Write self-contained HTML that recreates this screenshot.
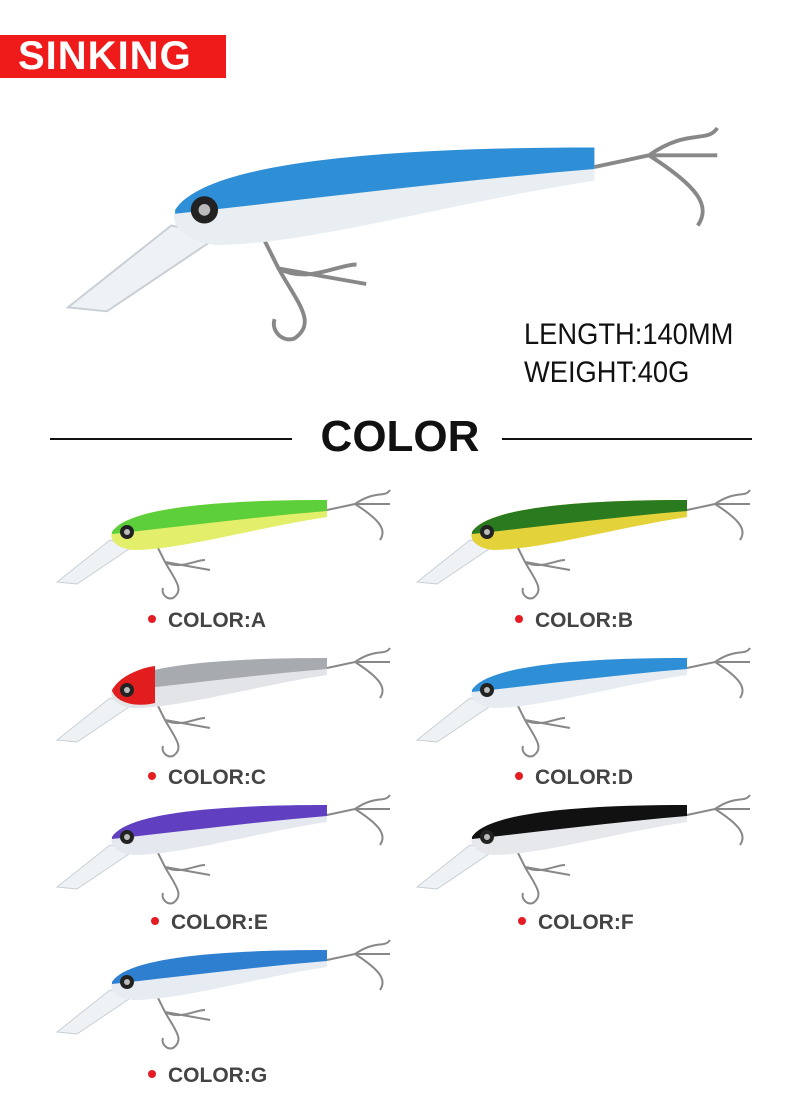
<!DOCTYPE html>
<html><head><meta charset="utf-8"><style>
body{margin:0;width:800px;height:1120px;background:#fff;position:relative;overflow:hidden;font-family:"Liberation Sans",sans-serif}
.t{position:absolute;white-space:nowrap}
.lbl{position:absolute;font-weight:bold;font-size:21px;color:#444;white-space:nowrap}
.lbl:before{content:"";display:inline-block;width:8px;height:8px;border-radius:50%;background:#e51c23;margin-right:12px;vertical-align:middle;position:relative;top:-2px}
</style></head><body>
<div style="position:absolute;left:0;top:35px;width:226px;height:43px;background:#ef1a1a"></div>
<div class="t" style="left:18px;top:34px;line-height:45px;color:#fff;font-weight:bold;font-size:40px;letter-spacing:1px">SINKING</div>
<div class="t" style="left:524px;top:318px;font-size:30px;color:#111;transform:scaleX(0.91);transform-origin:0 0">LENGTH:140MM</div>
<div class="t" style="left:524px;top:356px;font-size:30px;color:#111;transform:scaleX(0.91);transform-origin:0 0">WEIGHT:40G</div>
<div style="position:absolute;left:50px;top:438px;width:242px;height:2px;background:#111"></div>
<div style="position:absolute;left:502px;top:438px;width:250px;height:2px;background:#111"></div>
<div class="t" style="left:0;width:800px;text-align:center;top:412px;font-size:44px;font-weight:bold;color:#111">COLOR</div>
<svg width="800" height="1120" style="position:absolute;left:0;top:0">
<defs>
<g id="hooks" fill="none" stroke="#888" stroke-width="2">
<path d="M272,20 L300,14 M300,14 C320,0 330,8 335,0 M300,14 C325,30 332,40 325,50 M300,14 L335,14"/>
<path d="M100,52 L110,72 C125,80 140,70 150,70 M110,72 C120,90 130,100 118,108 C112,110 106,104 108,98 M110,72 L155,80"/>
<path d="M2,92 L55,50 L80,55 L22,94 Z" fill="#eef2f5" stroke="#c8cfd5" stroke-width="1"/>
</g>
<path id="body" d="M57,42 C72,18 160,10 272,10 L272,27 C200,38 125,60 78,60 C62,58 54,50 57,42 Z"/>
<path id="top" d="M57,42 C72,18 160,10 272,10 L272,21 C200,27 130,36 57,44 Z"/>
<g id="eye"><circle cx="72" cy="42" r="7" fill="#222"/><circle cx="72" cy="42" r="3" fill="#bbb"/></g>
</defs>
<g transform="translate(55,490)">
<use href="#hooks"/><use href="#body" fill="#e3ee6a"/><use href="#top" fill="#5ccf3a"/><use href="#eye"/></g>
<g transform="translate(64,128) scale(1.95)">
<use href="#hooks"/><use href="#body" fill="#e8eef2"/><use href="#top" fill="#2f8fd6"/><use href="#eye"/></g>
<g transform="translate(415,490)"><use href="#hooks"/><use href="#body" fill="#e4d23a"/><use href="#top" fill="#2a7a20"/><use href="#eye"/></g>
<g transform="translate(55,648)"><use href="#hooks"/><use href="#body" fill="#e2e4e8"/><use href="#top" fill="#a7abb0"/><path d="M57,42 C65,28 85,20 100,18 L100,55 C80,60 60,54 57,42Z" fill="#e21d1d"/><use href="#eye"/></g>
<g transform="translate(415,648)"><use href="#hooks"/><use href="#body" fill="#e6ecf2"/><use href="#top" fill="#2f8fd6"/><use href="#eye"/></g>
<g transform="translate(55,795)"><use href="#hooks"/><use href="#body" fill="#e6e8f0"/><use href="#top" fill="#6040c0"/><use href="#eye"/></g>
<g transform="translate(415,795)"><use href="#hooks"/><use href="#body" fill="#e6e8ec"/><use href="#top" fill="#111"/><use href="#eye"/></g>
<g transform="translate(55,940)"><use href="#hooks"/><use href="#body" fill="#e6ecf2"/><use href="#top" fill="#2f7fd0"/><use href="#eye"/></g>
</svg>
<div class="lbl" style="left:148px;top:609px">COLOR:A</div>
<div class="lbl" style="left:515px;top:609px">COLOR:B</div>
<div class="lbl" style="left:148px;top:766px">COLOR:C</div>
<div class="lbl" style="left:515px;top:766px">COLOR:D</div>
<div class="lbl" style="left:151px;top:911px">COLOR:E</div>
<div class="lbl" style="left:518px;top:911px">COLOR:F</div>
<div class="lbl" style="left:148px;top:1064px">COLOR:G</div>
</body></html>
